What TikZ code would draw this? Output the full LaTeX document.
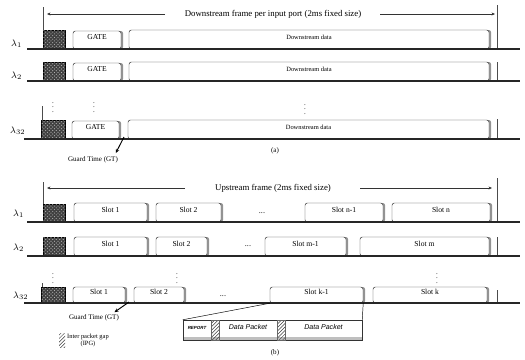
\documentclass[tikz,border=0pt]{standalone}
\usepackage{fontspec}
\setmainfont{Liberation Serif}
\newfontfamily\pktfont{Liberation Sans}
\usepackage{tikz}
\usetikzlibrary{arrows.meta,fit,patterns,shadows}

\begin{document}
\begin{tikzpicture}[x=0.03cm, y=-0.03cm,
  axisline/.style={line width=0.9pt, black!85},
  markline/.style={thin, black!70},
  framearrow/.style={-{Stealth[length=3pt, width=2.5pt]}, thin, black!80},
  frametext/.style={font=\fontsize{7.5}{8}\selectfont, inner sep=1pt},
  lam/.style={font=\fontsize{8}{9}\selectfont, anchor=west, inner sep=0pt},
  headbox/.style={draw=black, fill=black!75, inner sep=0pt,
    postaction={pattern=crosshatch dots, pattern color=white!70!black}},
  slotbox/.style={draw=black!80, fill=white, rounded corners=2pt, inner sep=0pt,
    drop shadow={shadow xshift=1.8pt, shadow yshift=0pt, opacity=0.85},
    font=\fontsize{6.5}{7}\selectfont},
  databox/.style={slotbox, font=\fontsize{5.5}{6}\selectfont},
  vdotsnode/.style={font=\fontsize{6}{6}\selectfont, inner sep=0pt},
  hdotsnode/.style={font=\fontsize{7}{7}\selectfont, inner sep=0pt},
  gtarrow/.style={-{Stealth[length=3.5pt, width=3pt]}, line width=0.8pt},
  smalltext/.style={font=\fontsize{6}{6.5}\selectfont, inner sep=1pt, align=center},
  hatchbox/.style={draw=black!60, pattern=north east lines, pattern color=black!75, inner sep=0pt},
  pktbox/.style={draw=black!80, inner sep=0pt, font=\pktfont\itshape\fontsize{6}{6.5}\selectfont},
]
\useasboundingbox (0,0) rectangle (525,359);

% ── (a) Downstream frame ─────────────────────────────────────────────────────
\coordinate (aLtop) at (43,7);   \coordinate (aLbot) at (43,49);
\coordinate (aRtop) at (497,5);  \coordinate (aRbot) at (497,48);
\draw[markline] (aLtop) -- (aLbot);
\draw[markline] (aRtop) -- (aRbot);
\node[frametext] (atitle) at (273,14) {Downstream frame per input port (2ms fixed size)};
\draw[framearrow] (165,14) -- (47,14);
\draw[framearrow] (380,14) -- (495,14);

% row lambda 1
\node[lam] (la1) at (11,44) {$\lambda_1$};
\node[headbox, fit={(43,30) (65,49)}] (a1h) {};
\node[slotbox, fit={(73,31) (121,49)}] (a1g) {GATE};
\node[databox, fit={(129,30) (489,49)}] (a1d) {Downstream data};
\draw[axisline] (27,49) -- (520,49);

% row lambda 2
\node[lam] (la2) at (11,76) {$\lambda_2$};
\node[headbox, fit={(43,62) (65,81)}] (a2h) {};
\node[slotbox, fit={(73,63) (121,81)}] (a2g) {GATE};
\node[databox, fit={(129,62) (489,81)}] (a2d) {Downstream data};
\draw[markline] (497,62) -- (497,81);
\draw[axisline] (27,81) -- (520,81);

\node[vdotsnode] (adots1) at (53,104) {\vdots};
\node[vdotsnode] (adots2) at (94,104) {\vdots};
\node[vdotsnode] (adots3) at (305,106) {\vdots};

% row lambda 32
\node[lam] (la32) at (10,131) {$\lambda_{32}$};
\draw[markline] (42,106) -- (42,139);
\node[headbox, fit={(41,120) (65,139)}] (a32h) {};
\node[slotbox, fit={(72,121) (119,139)}] (a32g) {GATE};
\node[databox, fit={(128,120) (489,139)}] (a32d) {Downstream data};
\draw[markline] (497,119) -- (497,139);
\draw[axisline] (24,139) -- (520,139);

\node[smalltext] (gta) at (93,160) {Guard Time (GT)};
\coordinate (gapa) at (124,137);
\draw[gtarrow] (gapa) -- ([xshift=-3pt, yshift=2pt]gta.north east);
\node[smalltext] (capa) at (275,151) {(a)};

% ── (b) Upstream frame ───────────────────────────────────────────────────────
\coordinate (bLtop) at (43,182);  \coordinate (bLbot) at (43,222);
\coordinate (bRtop) at (497,178); \coordinate (bRbot) at (497,222);
\draw[markline] (bLtop) -- (bLbot);
\draw[markline] (bRtop) -- (bRbot);
\node[frametext] (btitle) at (273,188) {Upstream frame (2ms fixed size)};
\draw[framearrow] (185,188) -- (47,188);
\draw[framearrow] (360,188) -- (492,188);

% row lambda 1
\node[lam] (lb1) at (13,214) {$\lambda_1$};
\node[headbox, fit={(43,204) (65,222)}] (b1h) {};
\node[slotbox, fit={(74,203) (147,222)}] (b1s1) {Slot 1};
\node[slotbox, fit={(156,203) (221,222)}] (b1s2) {Slot 2};
\node[hdotsnode] (b1dots) at (262,213) {...};
\node[slotbox, fit={(305,203) (383,222)}] (b1s3) {Slot n-1};
\node[slotbox, fit={(392,203) (490,222)}] (b1s4) {Slot n};
\draw[axisline] (27,222) -- (520,222);

% row lambda 2
\node[lam] (lb2) at (13,248) {$\lambda_2$};
\node[headbox, fit={(43,237) (65,256)}] (b2h) {};
\node[slotbox, fit={(74,237) (147,256)}] (b2s1) {Slot 1};
\node[slotbox, fit={(156,237) (207,256)}] (b2s2) {Slot 2};
\node[hdotsnode] (b2dots) at (248,246) {...};
\node[slotbox, fit={(265,237) (346,256)}] (b2s3) {Slot m-1};
\node[slotbox, fit={(360,237) (489,256)}] (b2s4) {Slot m};
\draw[markline] (497,237) -- (497,256);
\draw[axisline] (27,256) -- (520,256);

\node[vdotsnode] (bdots1) at (53,275) {\vdots};
\node[vdotsnode] (bdots2) at (177,275) {\vdots};
\node[vdotsnode] (bdots3) at (437,275) {\vdots};

% row lambda 32
\node[lam] (lb32) at (13,296) {$\lambda_{32}$};
\draw[markline] (42,283) -- (42,303);
\node[headbox, fit={(41,287) (65,303)}] (b32h) {};
\node[slotbox, fit={(73,287) (125,303)}] (b32s1) {Slot 1};
\node[slotbox, fit={(134,287) (184,303)}] (b32s2) {Slot 2};
\node[hdotsnode] (b32dots) at (223,296) {...};
\node[slotbox, fit={(270,287) (363,303)}] (b32s3) {Slot k-1};
\node[slotbox, fit={(373,287) (487,303)}] (b32s4) {Slot k};
\draw[markline] (497,290) -- (497,303);
\draw[axisline] (24,303) -- (520,303);

\node[smalltext] (gtb) at (94,318) {Guard Time (GT)};
\coordinate (gapb) at (129,302);
\draw[gtarrow] (gapb) -- ([xshift=-5pt, yshift=1pt]gtb.north east);

% ── legend: inter packet gap ─────────────────────────────────────────────────
\node[hatchbox, draw=none, fit={(59,333) (65,347)}] (ipgmark) {};
\node[smalltext, font=\fontsize{5.5}{6}\selectfont] (ipgtext) at (88,340) {Inter packet gap\\(IPG)};

% ── slot k-1 blown up ────────────────────────────────────────────────────────
\node[draw=black!80, inner sep=0pt, fit={(183,320) (362,340)}] (zoomfr) {};
\fill[black!25] (183,337) rectangle (362,340);
\node[pktbox, font=\pktfont\itshape\bfseries\fontsize{3.8}{4}\selectfont,
      fit={(183,320) (211,340)}] (rep) {REPORT};
\node[hatchbox, fit={(211,320) (219,340)}] (ipg1) {};
\node[pktbox, draw=none, fit={(219,320) (277,340)}] (pkt1) {Data Packet};
\node[hatchbox, fit={(277,320) (285,340)}] (ipg2) {};
\node[pktbox, draw=none, fit={(285,320) (362,340)}] (pkt2) {Data Packet};
\draw[thin] (zoomfr.north west) -- (b32s3.south west);
\draw[thin] (zoomfr.north east) -- (b32s3.south east);
\node[smalltext] (capb) at (275,353) {(b)};

\end{tikzpicture}
\end{document}
